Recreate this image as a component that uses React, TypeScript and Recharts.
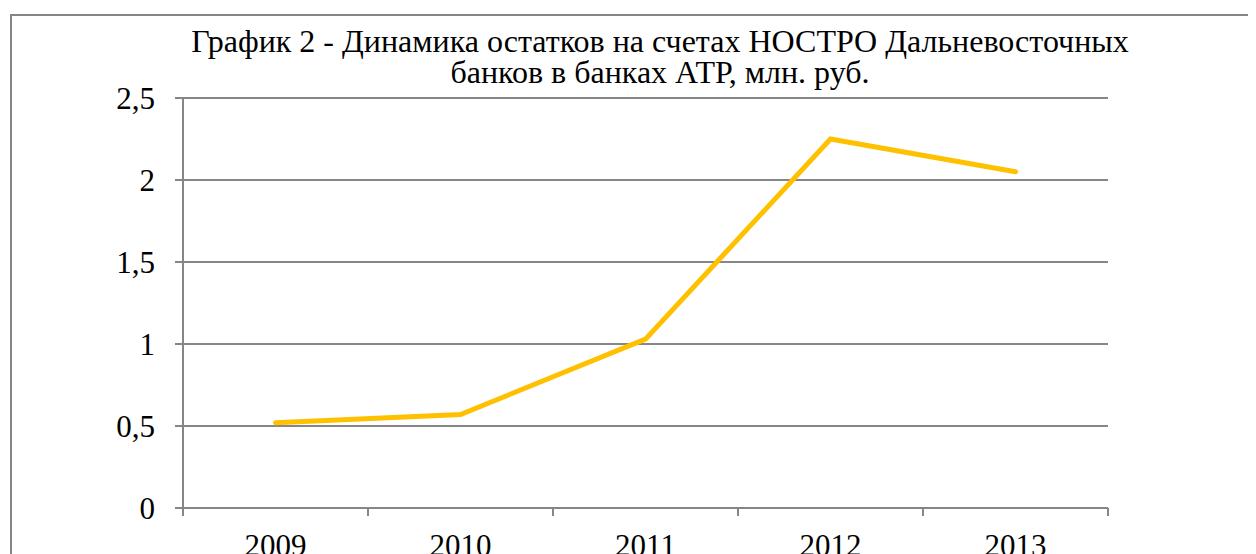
import { CartesianGrid, Line, LineChart, XAxis, YAxis } from "recharts";

// Остатки на счетах НОСТРО, млн. руб.
const years = ["2009", "2010", "2011", "2012", "2013"];
const balances = [0.52, 0.57, 1.03, 2.25, 2.05];
const yTicks = [0, 0.5, 1, 1.5, 2, 2.5];

// category boundaries (tick marks) and centres (labels)
const xTicks = [0, 0.5, 1, 1.5, 2, 2.5, 3, 3.5, 4, 4.5, 5];

const data = years.map((year, i) => ({ pos: i + 0.5, year, value: balances[i] }));

const FONT = '"Liberation Serif", "Times New Roman", serif';
const GRID = "#868686";

function XTick(props: any) {
  const { x, y, payload } = props;
  const v = payload.value as number;
  if (Number.isInteger(v)) {
    return <line x1={x} x2={x} y1={y} y2={y + 8} stroke={GRID} strokeWidth={2} />;
  }
  return (
    <text x={x} y={y + 48} textAnchor="middle" fontFamily={FONT} fontSize={31} fill="#000">
      {years[Math.floor(v)]}
    </text>
  );
}

export default function App() {
  return (
    <div style={{ position: "relative", width: 1248, height: 546, overflow: "hidden", background: "#fff" }}>
      <div
        style={{
          position: "absolute",
          left: 2,
          top: 6,
          width: 1400,
          height: 700,
          border: `2px solid ${GRID}`,
        }}
      />
      <div
        style={{
          position: "absolute",
          left: 152,
          top: 18,
          width: 1000,
          textAlign: "center",
          fontFamily: FONT,
          fontSize: 32,
          lineHeight: "31px",
          whiteSpace: "nowrap",
          color: "#000",
        }}
      >
        График 2 - Динамика остатков на счетах НОСТРО Дальневосточных
        <br />
        банков в банках АТР, млн. руб.
      </div>
      <div style={{ position: "absolute", left: 0, top: 0 }}>
        <LineChart
          width={1248}
          height={546}
          data={data}
          margin={{ top: 90, right: 148, left: 115, bottom: 16 }}
        >
          <CartesianGrid vertical={false} stroke={GRID} strokeWidth={2} />
          <XAxis
            dataKey="pos"
            type="number"
            domain={[0, 5]}
            ticks={xTicks}
            interval={0}
            height={30}
            axisLine={{ stroke: GRID, strokeWidth: 2 }}
            tickLine={false}
            tickSize={0}
            tickMargin={0}
            tick={(p: any) => <XTick {...p} />}
          />
          <YAxis
            domain={[0, 2.5]}
            ticks={yTicks}
            interval={0}
            width={60}
            axisLine={{ stroke: GRID, strokeWidth: 2 }}
            tickLine={{ stroke: GRID, strokeWidth: 2 }}
            tickSize={8}
            tickMargin={20}
            tickFormatter={(v: number) => String(v).replace(".", ",")}
            tick={{ fontFamily: FONT, fontSize: 31, fill: "#000" }}
          />
          <Line
            type="linear"
            dataKey="value"
            stroke="#FFC000"
            strokeWidth={5}
            strokeLinecap="round"
            dot={false}
            activeDot={false}
            isAnimationActive={false}
          />
        </LineChart>
      </div>
    </div>
  );
}
